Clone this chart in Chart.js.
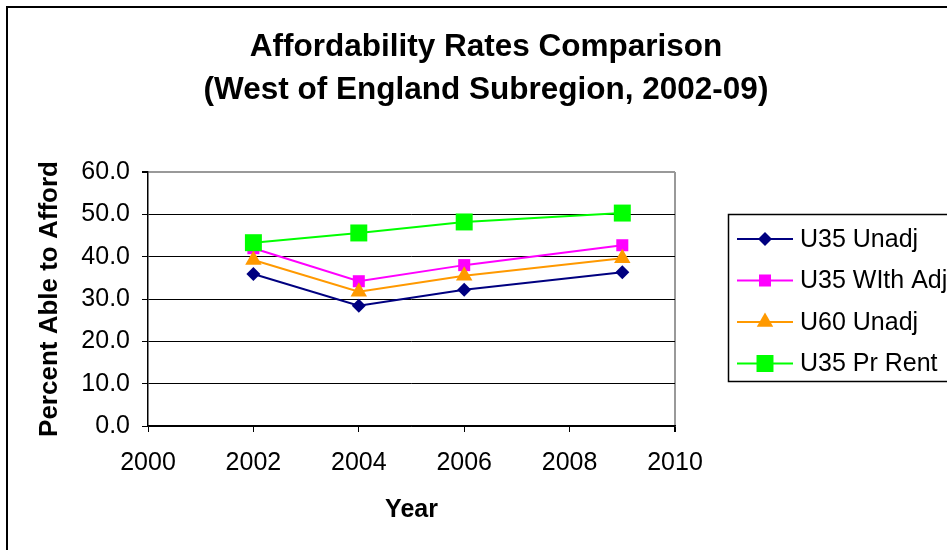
<!DOCTYPE html>
<html>
<head>
<meta charset="utf-8">
<script src="https://cdn.jsdelivr.net/npm/chart.js@4.4.1/dist/chart.umd.min.js"></script>
<style>
  html, body { margin: 0; padding: 0; background: #fff; overflow: hidden; width: 947px; height: 550px; }
  #wrap { position: absolute; left: 0; top: 0; width: 972px; height: 550px; }
</style>
</head>
<body>
<div id="wrap"><canvas id="chart" width="972" height="550"></canvas></div>
<script>
// --- data ---
const years = [2002, 2004, 2006, 2009];
const u35Unadj = [35.9, 28.4, 32.2, 36.3];
const u35WithAdj = [42.0, 34.2, 38.0, 42.7];
const u60Unadj = [39.2, 31.7, 35.5, 39.6];
const u35PrRent = [43.3, 45.6, 48.2, 50.3];

const seriesNames = ['U35 Unadj', 'U35 WIth Adj', 'U60 Unadj', 'U35 Pr Rent'];
const titleLines = ['Affordability Rates Comparison', '(West of England Subregion, 2002-09)'];

const FONT = "'Liberation Sans', Arial, sans-serif";

const toPoints = (vals) => vals.map((v, i) => ({ x: years[i], y: v }));

const makeSet = (label, vals, color, style, radius, order) => ({
    label: label,
    data: toPoints(vals),
    borderColor: color,
    backgroundColor: color,
    pointBackgroundColor: color,
    pointBorderColor: color,
    pointBorderWidth: 0,
    borderWidth: 2,
    pointStyle: style,
    pointRadius: radius,
    tension: 0,
    order: order
});

// frame round the whole chart + legend box (drawn by hand like Excel's)
const framePlugin = {
    id: 'frame',
    afterDraw(chart) {
        const c = chart.ctx;
        c.save();
        c.strokeStyle = '#000';
        c.lineWidth = 2;
        c.strokeRect(7, 7, 1000, 600);

        // legend
        c.lineWidth = 1.5;
        c.strokeRect(728.5, 214.5, 300, 167);
        c.font = '25px ' + FONT;
        c.textBaseline = 'middle';
        c.textAlign = 'left';
        chart.data.datasets.forEach((ds, i) => {
            const y = 239 + i * 41.5;
            c.strokeStyle = ds.borderColor;
            c.lineWidth = 2;
            c.beginPath();
            c.moveTo(737, y);
            c.lineTo(793, y);
            c.stroke();
            if (Chart.helpers && Chart.helpers.drawPoint) {
                c.fillStyle = ds.borderColor;
                c.strokeStyle = ds.borderColor;
                Chart.helpers.drawPoint(c, { pointStyle: ds.pointStyle, radius: ds.pointRadius, borderWidth: 0, rotation: 0 }, 765, y);
            }
            c.fillStyle = '#000';
            c.fillText(ds.label, 800, y + 1);
        });
        c.restore();
    }
};

new Chart(document.getElementById('chart'), {
    type: 'line',
    data: {
        datasets: [
            makeSet(seriesNames[0], u35Unadj, '#000080', 'rectRot', 7, 3),
            makeSet(seriesNames[1], u35WithAdj, '#ff00ff', 'rect', 8.5, 2),
            makeSet(seriesNames[2], u60Unadj, '#ff9900', 'triangle', 9.5, 1),
            makeSet(seriesNames[3], u35PrRent, '#00ff00', 'rect', 12, 0)
        ]
    },
    options: {
        responsive: false,
        animation: false,
        events: [],
        devicePixelRatio: 1,
        layout: { padding: 0 },
        plugins: {
            legend: { display: false },
            tooltip: { enabled: false },
            title: {
                display: true,
                text: titleLines,
                color: '#000',
                font: { family: FONT, size: 31.5, weight: 'bold', lineHeight: 43 / 31.5 },
                padding: { top: 25.5, bottom: 60.5 }
            }
        },
        scales: {
            x: {
                type: 'linear',
                min: 2000,
                max: 2010,
                afterFit(scale) { scale.height = 124; },
                ticks: {
                    stepSize: 2,
                    color: '#000',
                    padding: 16,
                    font: { family: FONT, size: 25 },
                    callback: (v) => String(v)
                },
                grid: {
                    color: (ctx) => (ctx.tick && ctx.tick.value === 2010 ? '#999' : 'rgba(0,0,0,0)'),
                    lineWidth: (ctx) => (ctx.tick && ctx.tick.value === 2010 ? 2 : 1),
                    tickColor: '#000',
                    tickLength: 6
                },
                border: { color: '#000', width: 1.5 },
                title: {
                    display: true,
                    text: 'Year',
                    color: '#000',
                    font: { family: FONT, size: 25, weight: 'bold' },
                    padding: { top: 0, bottom: 25 }
                }
            },
            y: {
                min: 0,
                max: 60,
                afterFit(scale) { scale.width = 148; },
                ticks: {
                    stepSize: 10,
                    color: '#000',
                    padding: 12,
                    font: { family: FONT, size: 25 },
                    callback: (v) => Number(v).toFixed(1)
                },
                grid: {
                    color: (ctx) => (ctx.tick && ctx.tick.value === 60 ? '#999' : '#000'),
                    lineWidth: (ctx) => (ctx.tick && ctx.tick.value === 60 ? 2 : 1),
                    tickColor: '#000',
                    tickLength: 6
                },
                border: { color: '#000', width: 1.5 },
                title: {
                    display: true,
                    text: 'Percent Able to Afford',
                    color: '#000',
                    font: { family: FONT, size: 26, weight: 'bold' },
                    padding: { top: 34, bottom: 0 }
                }
            },
            // empty axis that keeps room on the right for the legend
            yRoom: {
                position: 'right',
                min: 0,
                max: 60,
                afterFit(scale) { scale.width = 297; },
                ticks: { display: false },
                grid: { display: false, drawOnChartArea: false },
                border: { display: false }
            }
        }
    },
    plugins: [framePlugin]
});
</script>
</body>
</html>
